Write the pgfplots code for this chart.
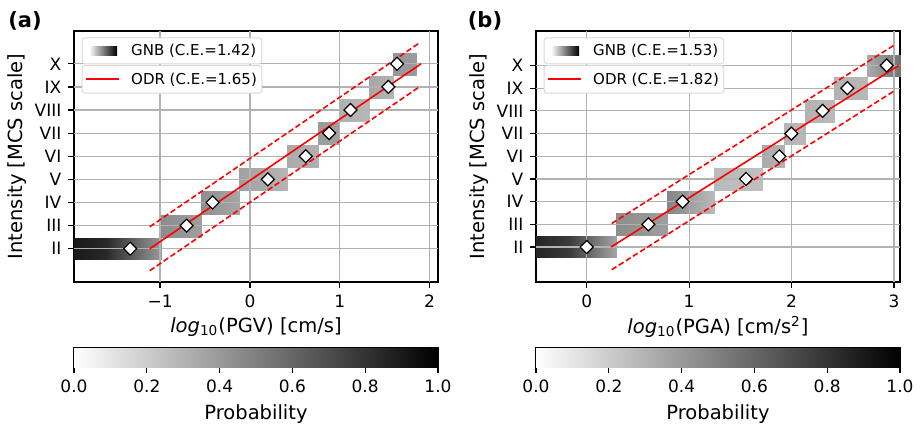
\documentclass[border=0pt]{standalone}
\usepackage{fontspec}
\setmainfont{DejaVu Sans}
\usepackage{pgfplots}
\pgfplotsset{compat=1.18}
\definecolor{odrred}{RGB}{255,0,0}
\tikzset{gridl/.style={color=gray!60, line width=0.6pt},
  legbox/.style={draw=gray!30, fill=white, rounded corners=1.5pt, line width=0.5pt},
  legtxt/.style={anchor=west, inner sep=0pt, font=\fontsize{7.5}{9}\selectfont}}
\pgfplotsset{
  /pgf/number format/assume math mode=true,
  panel/.style={
    width=182pt, height=125.5pt, scale only axis,
    anchor=south west,
    ytick={2,3,4,5,6,7,8,9,10},
    yticklabels={II,III,IV,V,VI,VII,VIII,IX,X},
    axis line style={line width=0.7pt},
    tick align=outside, tick pos=left, major tick length=2.8pt,
    tick style={black, line width=0.6pt},
    tick label style={font=\fontsize{8.5}{10}\selectfont},
    label style={font=\fontsize{9.75}{11}\selectfont},
    ylabel={Intensity [MCS scale]},
    ylabel style={at={(axis description cs:-0.1566,0.5)}, anchor=center},
    xlabel style={at={(axis description cs:0.5,-0.179)}, anchor=center},
    colormap={bw}{color=(white) color=(black)},
    point meta min=0, point meta max=1,
  },
  cbar/.style={
    width=182pt, height=9.5pt, scale only axis, anchor=south west,
    xmin=0, xmax=1, ymin=0, ymax=1,
    xtick={0,0.2,0.4,0.6,0.8,1}, ytick=\empty,
    xticklabel={\pgfmathprintnumber[fixed,fixed zerofill,precision=1]{\tick}},
    xlabel={Probability},
    xlabel style={at={(axis description cs:0.5,-2.47)}, anchor=center, font=\fontsize{9.75}{11}\selectfont},
    tick align=outside, tick pos=left, major tick length=2.8pt,
    tick style={black, line width=0.6pt},
    axis line style={line width=0.7pt},
    tick label style={font=\fontsize{8.5}{10}\selectfont},
    colormap={bw}{color=(white) color=(black)},
    point meta min=0, point meta max=1,
  },
  heat/.style={patch, patch type=rectangle, shader=interp, point meta=explicit},
  odr/.style={odrred, line width=0.8pt, no marks},
  odrd/.style={odrred, line width=0.8pt, no marks, dash pattern=on 2.8pt off 1.4pt},
  obs/.style={only marks, mark=square*, mark size=2.3pt, mark options={rotate=45, fill=white, draw=black, line width=0.6pt}},
}
\begin{document}
\begin{tikzpicture}
\useasboundingbox (0,0) rectangle (460.5pt,214.5pt);
% ---------------- panel (a)
\begin{axis}[panel, at={(37pt,73.5pt)},
  xmin=-1.958, xmax=2.093, ymin=0.56, ymax=11.42,
  xtick={-1,0,1,2}, xticklabels={−1,0,1,2},
  xlabel={\textit{log}\textsubscript{10}(PGV) [cm/s]}]
\addplot[heat] table[meta=c] {
x y c
-1.96 1.52 0.90
-1.60 1.52 0.84
-1.60 2.48 0.84
-1.96 2.48 0.90
-1.60 1.52 0.84
-0.993 1.52 0.40
-0.993 2.48 0.40
-1.60 2.48 0.84
-0.993 2.52 0.45
-0.541 2.52 0.38
-0.541 3.48 0.38
-0.993 3.48 0.45
-0.541 3.52 0.44
-0.122 3.52 0.35
-0.122 4.48 0.35
-0.541 4.48 0.44
-0.122 4.52 0.37
0.411 4.52 0.29
0.411 5.48 0.29
-0.122 5.48 0.37
0.411 5.52 0.33
0.752 5.52 0.31
0.752 6.48 0.31
0.411 6.48 0.33
0.752 6.52 0.39
0.989 6.52 0.37
0.989 7.48 0.37
0.752 7.48 0.39
0.989 7.52 0.31
1.322 7.52 0.28
1.322 8.48 0.28
0.989 8.48 0.31
1.322 8.52 0.35
1.589 8.52 0.29
1.589 9.48 0.29
1.322 9.48 0.35
1.589 9.52 0.41
1.852 9.52 0.39
1.852 10.48 0.39
1.589 10.48 0.41
};
\pgfplotsinvokeforeach{2,3,4,5,6,7,8,9,10}{\draw[gridl] (axis cs:-1.958,#1) -- (axis cs:2.093,#1);}
\pgfplotsinvokeforeach{-1,0,1,2}{\draw[gridl] (axis cs:#1,0.56) -- (axis cs:#1,11.42);}
\addplot[odr] coordinates {(-1.115,2) (1.904,10)};
\addplot[odrd] coordinates {(-1.115,2.95) (1.885,10.90)};
\addplot[odrd] coordinates {(-1.115,1.05) (1.885,9.00)};
\addplot[obs] coordinates {(-1.333,2) (-0.704,3) (-0.415,4) (0.200,5) (0.622,6) (0.881,7) (1.119,8) (1.541,9) (1.637,10)};
\end{axis}
\begin{axis}[cbar, at={(37pt,31pt)}]
\addplot[heat] coordinates {(0,0) [0] (1,0) [1] (1,1) [1] (0,1) [0]};
\end{axis}
% ---------------- panel (b)
\begin{axis}[panel, at={(268pt,73.5pt)},
  xmin=-0.495, xmax=3.059, ymin=0.46, ymax=11.52,
  xtick={0,1,2,3}, xticklabels={0,1,2,3},
  xlabel={\textit{log}\textsubscript{10}(PGA) [cm/s\textsuperscript{2}]}]
\addplot[heat] table[meta=c] {
x y c
-0.50 1.52 0.86
-0.17 1.52 0.77
-0.17 2.48 0.77
-0.50 2.48 0.86
-0.17 1.52 0.77
0.29 1.52 0.36
0.29 2.48 0.36
-0.17 2.48 0.77
0.29 2.52 0.45
0.785 2.52 0.38
0.785 3.48 0.38
0.29 3.48 0.45
0.785 3.52 0.48
1.247 3.52 0.27
1.247 4.48 0.27
0.785 4.48 0.48
1.247 4.52 0.27
1.709 4.52 0.25
1.709 5.48 0.25
1.247 5.48 0.27
1.709 5.52 0.33
1.923 5.52 0.30
1.923 6.48 0.30
1.709 6.48 0.33
1.923 6.52 0.29
2.131 6.52 0.28
2.131 7.48 0.28
1.923 7.48 0.29
2.131 7.52 0.30
2.418 7.52 0.27
2.418 8.48 0.27
2.131 8.48 0.30
2.418 8.52 0.30
2.737 8.52 0.28
2.737 9.48 0.28
2.418 9.48 0.30
2.737 9.52 0.33
3.059 9.52 0.55
3.059 10.48 0.55
2.737 10.48 0.33
};
\pgfplotsinvokeforeach{2,3,4,5,6,7,8,9,10}{\draw[gridl] (axis cs:-0.495,#1) -- (axis cs:3.059,#1);}
\pgfplotsinvokeforeach{0,1,2,3}{\draw[gridl] (axis cs:#1,0.46) -- (axis cs:#1,11.52);}
\addplot[odr] coordinates {(0.2375,2) (3.046,10)};
\addplot[odrd] coordinates {(0.244,3.04) (3.010,10.92)};
\addplot[odrd] coordinates {(0.244,1.00) (3.010,8.90)};
\addplot[obs] coordinates {(0,2) (0.602,3) (0.937,4) (1.556,5) (1.881,6) (1.998,7) (2.304,8) (2.545,9) (2.929,10)};
\end{axis}
\begin{axis}[cbar, at={(268pt,31pt)}]
\addplot[heat] coordinates {(0,0) [0] (1,0) [1] (1,1) [1] (0,1) [0]};
\end{axis}
% ---------------- legends
\path[legbox] (41pt,182.6pt) rectangle (130.9pt,195.6pt);
\path[legbox] (41pt,167.9pt) rectangle (130.9pt,181.7pt);
\path[legbox] (272pt,182.6pt) rectangle (361.9pt,195.6pt);
\path[legbox] (272pt,167.9pt) rectangle (361.9pt,181.7pt);
\node[legtxt] at (65.4pt,189.1pt) {GNB (C.E.=1.42)};
\node[legtxt] at (65.4pt,174.8pt) {ODR (C.E.=1.65)};
\node[legtxt] at (296.4pt,189.1pt) {GNB (C.E.=1.53)};
\node[legtxt] at (296.4pt,174.8pt) {ODR (C.E.=1.82)};
\shade[left color=white, right color=black] (44.5pt,186.7pt) rectangle (58.5pt,191.2pt);
\shade[left color=white, right color=black] (275.5pt,186.7pt) rectangle (289.5pt,191.2pt);
\node[font=\bfseries\fontsize{10.5}{12}\selectfont] at (12.5pt,204pt) {(a)};
\node[font=\bfseries\fontsize{10.5}{12}\selectfont] at (242.5pt,204pt) {(b)};
\fill[fill=odrred] (43pt,174.35pt) rectangle (59.6pt,175.25pt);
\fill[fill=odrred] (274pt,174.35pt) rectangle (290.6pt,175.25pt);
\end{tikzpicture}
\end{document}
